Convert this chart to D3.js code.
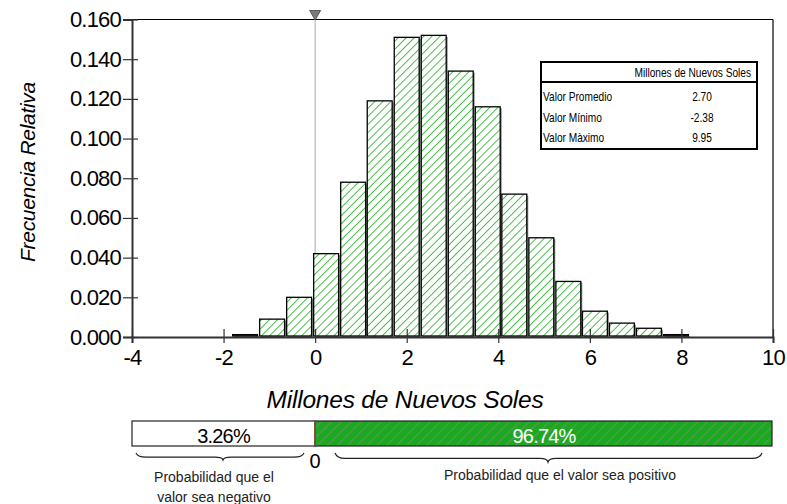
<!DOCTYPE html>
<html>
<head>
<meta charset="utf-8">
<script src="https://cdn.jsdelivr.net/npm/d3@7"></script>
<style>
  body { margin: 0; background: #fff; }
  text { font-family: "Liberation Sans", Arial, sans-serif; }
</style>
</head>
<body>
<div id="chart"></div>
<script>
let width = 787,
    height = 504,
    margin = ({ top: 19.5, right: 14, bottom: 167, left: 132 });

// histogram: bin centers (millions of soles) and relative frequency
const binCenters = [-1.53, -0.94, -0.35, 0.24, 0.83, 1.41, 2.00, 2.59, 3.18, 3.77, 4.35, 4.94, 5.53, 6.11, 6.70, 7.29, 7.88];
const freq = [0.0012, 0.009, 0.020, 0.042, 0.078, 0.119, 0.151, 0.152, 0.134, 0.116, 0.072, 0.050, 0.028, 0.013, 0.007, 0.0044, 0.0012];
const binWidth = 0.588;

const xTicks = [-4, -2, 0, 2, 4, 6, 8, 10];
const yTicks = [0, 0.02, 0.04, 0.06, 0.08, 0.10, 0.12, 0.14, 0.16];

const statLabels = ["Valor Promedio", "Valor Mínimo", "Valor Màximo"];
const statValues = ["2.70", "-2.38", "9.95"];
const statHeader = "Millones de Nuevos Soles";

const probNeg = 3.26, probPos = 96.74;

const svg = d3.select("#chart")
  .append("svg")
  .attr("width", width)
  .attr("height", height);

let x = d3.scaleLinear()
  .domain([-4, 10])
  .range([margin.left, width - margin.right]);

let y = d3.scaleLinear()
  .domain([0, 0.16])
  .range([height - margin.bottom, margin.top]);

const defs = svg.append("defs");

defs.append("pattern")
  .attr("id", "hatch")
  .attr("patternUnits", "userSpaceOnUse")
  .attr("width", 5.7)
  .attr("height", 5.7)
  .attr("patternTransform", "rotate(45)")
  .call(p => {
    p.append("rect").attr("width", 5.7).attr("height", 5.7).attr("fill", "#fff");
    p.append("line").attr("x1", 0).attr("y1", 0).attr("x2", 0).attr("y2", 5.7)
      .attr("stroke", "#22b022").attr("stroke-width", 1.6);
  });

defs.append("pattern")
  .attr("id", "hatch2")
  .attr("patternUnits", "userSpaceOnUse")
  .attr("width", 7)
  .attr("height", 7)
  .attr("patternTransform", "rotate(45)")
  .call(p => {
    p.append("rect").attr("width", 7).attr("height", 7).attr("fill", "#1ba91f");
    p.append("line").attr("x1", 0).attr("y1", 0).attr("x2", 0).attr("y2", 7)
      .attr("stroke", "#8a8a8a").attr("stroke-width", 1.2);
  });

// frame
svg.append("line")
  .attr("x1", x(-4)).attr("x2", x(10))
  .attr("y1", y(0.16)).attr("y2", y(0.16))
  .attr("stroke", "#000").attr("stroke-width", 1.2);
svg.append("line")
  .attr("x1", x(10)).attr("x2", x(10))
  .attr("y1", y(0.16)).attr("y2", y(0))
  .attr("stroke", "#000").attr("stroke-width", 1.2);

// zero marker
svg.append("line")
  .attr("x1", x(0)).attr("x2", x(0))
  .attr("y1", y(0.16)).attr("y2", y(0))
  .attr("stroke", "#aaa").attr("stroke-width", 1);
svg.append("path")
  .attr("d", `M${x(0) - 5.5},${y(0.16) - 9}L${x(0) + 5.5},${y(0.16) - 9}L${x(0)},${y(0.16) + 0.5}Z`)
  .attr("fill", "#7a7a7a").attr("stroke", "#444").attr("stroke-width", 0.8);

// bars
let bars = svg.append("g");
binCenters.forEach((c, i) => {
  let x0 = x(c - binWidth / 2) + 1,
      x1 = x(c + binWidth / 2) - 1,
      top = y(freq[i]);
  bars.append("rect")
    .attr("x", x0 + 1.5).attr("y", top + 1.5)
    .attr("width", x1 - x0).attr("height", y(0) - top - 1.5)
    .attr("fill", "#8c8c8c");
  bars.append("rect")
    .attr("x", x0).attr("y", top)
    .attr("width", x1 - x0).attr("height", y(0) - top - 1)
    .attr("fill", "url(#hatch)")
    .attr("stroke", "#000").attr("stroke-width", 1.3);
});

// axes
let yAxis = svg.append("g")
  .attr("transform", `translate(${margin.left},0)`)
  .call(d3.axisLeft(y).tickValues(yTicks).tickFormat(d3.format(".3f")).tickSizeOuter(0).tickSize(9).tickPadding(2));
yAxis.select(".domain").attr("stroke", "#333").attr("stroke-width", 2);
yAxis.selectAll(".tick line").attr("x2", -9).attr("x1", 6).attr("stroke", "#333").attr("stroke-width", 1.2);
yAxis.selectAll(".tick text")
  .attr("font-size", 22).attr("letter-spacing", -0.8).attr("fill", "#000")
  .attr("font-family", "Liberation Sans, Arial, sans-serif");

let xAxis = svg.append("g")
  .attr("transform", `translate(0,${y(0)})`)
  .call(d3.axisBottom(x).tickValues(xTicks).tickFormat(d => String(d)).tickSizeOuter(0).tickSize(6).tickPadding(6));
xAxis.select(".domain").attr("stroke", "#333").attr("stroke-width", 2);
xAxis.selectAll(".tick line").attr("y1", -8).attr("y2", 6).attr("stroke", "#333").attr("stroke-width", 1.2);
xAxis.selectAll(".tick text")
  .attr("font-size", 22).attr("letter-spacing", -0.8).attr("fill", "#000")
  .attr("font-family", "Liberation Sans, Arial, sans-serif");

// axis titles
svg.append("text")
  .attr("transform", "translate(35,172) rotate(-90)")
  .attr("text-anchor", "middle")
  .attr("font-size", 21).attr("font-style", "italic").attr("letter-spacing", -0.3)
  .text("Frecuencia Relativa");

svg.append("text")
  .attr("x", 405).attr("y", 408)
  .attr("text-anchor", "middle")
  .attr("font-size", 24.5).attr("font-style", "italic").attr("letter-spacing", -0.2)
  .text("Millones de Nuevos Soles");

// stats table (narrow text via horizontal squeeze)
function narrow(g, tx, ty, txt, anchor) {
  g.append("text")
    .attr("transform", `translate(${tx},${ty}) scale(0.78,1)`)
    .attr("text-anchor", anchor)
    .attr("font-size", 13)
    .text(txt);
}
let tb = svg.append("g");
tb.append("rect")
  .attr("x", 541).attr("y", 62).attr("width", 216).attr("height", 87)
  .attr("fill", "#fff").attr("stroke", "#000").attr("stroke-width", 2);
tb.append("line")
  .attr("x1", 541).attr("x2", 757).attr("y1", 82).attr("y2", 82)
  .attr("stroke", "#000").attr("stroke-width", 2);
narrow(tb, 751, 77, statHeader, "end");
statLabels.forEach((s, i) => {
  narrow(tb, 543, 101 + i * 20.5, s, "start");
  narrow(tb, 702, 101 + i * 20.5, statValues[i], "middle");
});

// probability strip
let barTop = 421, barH = 25;
svg.append("rect")
  .attr("x", x(-4)).attr("y", barTop)
  .attr("width", x(0) - x(-4)).attr("height", barH)
  .attr("fill", "#fff").attr("stroke", "#222").attr("stroke-width", 1.2);
svg.append("rect")
  .attr("x", x(0)).attr("y", barTop)
  .attr("width", x(10) - x(0) - 1).attr("height", barH)
  .attr("fill", "url(#hatch2)").attr("stroke", "#222").attr("stroke-width", 1.2);
svg.append("line")
  .attr("x1", x(0)).attr("x2", x(0))
  .attr("y1", barTop).attr("y2", barTop + barH)
  .attr("stroke", "#a0432a").attr("stroke-width", 1.5);

svg.append("text")
  .attr("x", (x(-4) + x(0)) / 2).attr("y", 443)
  .attr("text-anchor", "middle")
  .attr("font-size", 20).attr("letter-spacing", -0.8)
  .text(probNeg.toFixed(2) + "%");
svg.append("text")
  .attr("x", (x(0) + x(10)) / 2).attr("y", 443)
  .attr("text-anchor", "middle")
  .attr("font-size", 20).attr("letter-spacing", -0.8).attr("fill", "#fff")
  .text(probPos.toFixed(2) + "%");
svg.append("text")
  .attr("x", x(0)).attr("y", 468)
  .attr("text-anchor", "middle")
  .attr("font-size", 20)
  .text("0");

// braces
function brace(xa, xb, xm, yTop, depth) {
  let yb = yTop + depth * 0.6, yt = yTop + depth;
  return `M${xa},${yTop} Q${xa + 2},${yb} ${xa + 10},${yb} L${xm - 8},${yb} Q${xm - 1},${yb} ${xm},${yt}` +
         ` Q${xm + 1},${yb} ${xm + 8},${yb} L${xb - 10},${yb} Q${xb - 2},${yb} ${xb},${yTop}`;
}
svg.append("path")
  .attr("d", brace(136, 304, 223, 453, 7))
  .attr("fill", "none").attr("stroke", "#222").attr("stroke-width", 1.2);
svg.append("path")
  .attr("d", brace(335, 762, 548, 453, 9))
  .attr("fill", "none").attr("stroke", "#222").attr("stroke-width", 1.2);

svg.append("text")
  .attr("x", 214).attr("y", 482)
  .attr("text-anchor", "middle")
  .attr("font-size", 14).attr("fill", "#222")
  .text("Probabilidad que el");
svg.append("text")
  .attr("x", 214).attr("y", 502)
  .attr("text-anchor", "middle")
  .attr("font-size", 14).attr("fill", "#222")
  .text("valor sea negativo");
svg.append("text")
  .attr("x", 560).attr("y", 480)
  .attr("text-anchor", "middle")
  .attr("font-size", 14).attr("fill", "#222")
  .text("Probabilidad que el valor sea positivo");
</script>
</body>
</html>
